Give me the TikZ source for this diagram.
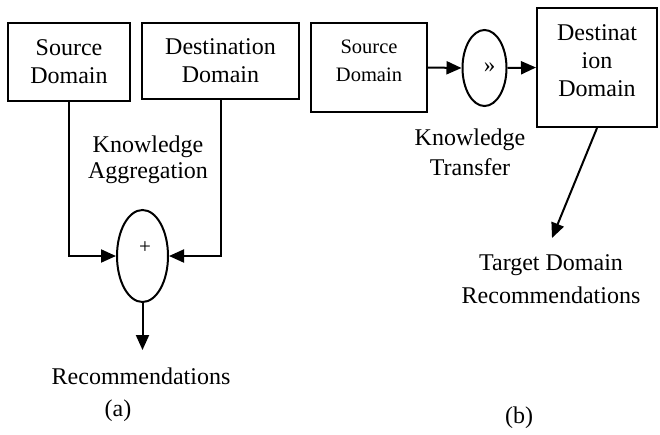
\documentclass[tikz,border=0pt]{standalone}
\usepackage{fontspec}
\setmainfont{Liberation Serif}
\usetikzlibrary{shapes.geometric,arrows.meta}
\begin{document}
\begin{tikzpicture}[x=1pt,y=-1pt,
  lw/.style={line width=2pt},
  boxnode/.style={draw,lw,align=center,inner sep=0pt,font=\fontsize{24}{28}\selectfont},
  ellnode/.style={draw,lw,ellipse,inner sep=0pt},
  txt/.style={align=center,inner sep=0pt,font=\fontsize{24}{31}\selectfont},
  arr/.style={lw,-{Triangle[length=15pt,width=13pt]}}]
\useasboundingbox (0,0) rectangle (660,434);
% (a)
\node[boxnode,minimum width=122pt,minimum height=78pt] (srcA) at (69,62) {Source\\Domain};
\node[boxnode,minimum width=157pt,minimum height=76pt] (dstA) at (220.5,61) {Destination\\Domain};
\node[ellnode,minimum width=51pt,minimum height=92pt,
  label={[inner sep=0pt,xshift=2.5pt,yshift=8pt,font=\fontsize{21}{21}\selectfont]center:+}] (ellA) at (142.5,256) {};
\node[txt,font=\fontsize{24}{26}\selectfont] (kagg) at (148,160) {Knowledge\\Aggregation};
\coordinate (recA) at (142.5,350);
\node[txt] (recAt) at (141,376) {Recommendations};
\node[txt] (capA) at (118,411) {(a)};
\draw[arr] (srcA.south) |- (ellA.west);
\draw[arr] (dstA.south) |- (ellA.east);
\draw[arr] (ellA.south) -- (recA);
% (b)
\node[draw,lw,inner sep=0pt,minimum width=116pt,minimum height=89pt,
  label={[align=center,inner sep=0pt,yshift=6.5pt,font=\fontsize{20.5}{28}\selectfont]center:Source\\Domain}] (srcB) at (369,67.5) {};
\node[ellnode,minimum width=44pt,minimum height=76pt,
  label={[inner sep=0pt,xshift=5pt,font=\fontsize{23}{23}\selectfont]center:»}] (ellB) at (484.5,68) {};
\node[draw,lw,inner sep=0pt,minimum width=120pt,minimum height=119pt,
  label={[align=center,inner sep=0pt,yshift=6.5pt,font=\fontsize{24}{28}\selectfont]center:Destinat\\ion\\Domain}] (dstB) at (597,67.5) {};
\node[txt,font=\fontsize{24}{30}\selectfont] (ktr) at (470,152) {Knowledge\\Transfer};
\coordinate (recB) at (552,238);
\node[txt,font=\fontsize{24}{33}\selectfont] (recBt) at (551,279.5) {Target Domain\\Recommendations};
\node[txt] (capB) at (519,418) {(b)};
\draw[arr] (srcB.east) -- (ellB.west);
\draw[arr] (ellB.east) -- (dstB.west);
\draw[arr] (dstB.south) -- (recB);
\end{tikzpicture}
\end{document}
